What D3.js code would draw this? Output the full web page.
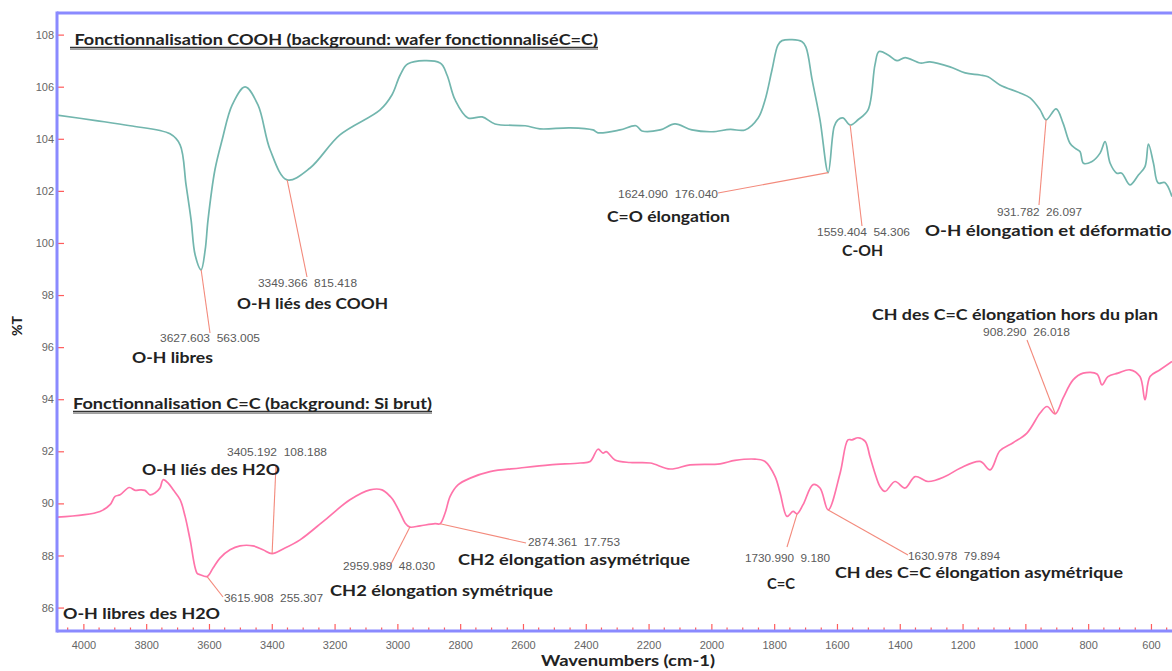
<!DOCTYPE html>
<html>
<head>
<meta charset="utf-8">
<script src="https://cdn.jsdelivr.net/npm/d3@7"></script>
<style>
  html, body { margin: 0; padding: 0; background: #fff; }
  svg { display: block; }
  .num { font-family: "Liberation Sans", Arial, sans-serif; font-size: 11.5px; fill: #5a5a5a; white-space: pre; }
  .lbl { font-family: Lato, "Open Sans", sans-serif; font-weight: 700; font-size: 16px; fill: #222; }
  .tick text { font-family: "Liberation Sans", Arial, sans-serif; font-size: 11px; fill: #666; }
</style>
</head>
<body>
<svg id="chart" width="1172" height="671"></svg>
<script>
// FTIR spectra: [wavenumber (cm-1), %T]
const coohSpectrum = [
  [4084,104.91],[3960,104.70],[3851,104.50],[3724,104.19],[3692,103.77],[3673,102.23],[3657,100.89],
  [3644,99.54],[3625,98.97],[3612,99.74],[3603,100.89],[3581,102.81],[3558,103.96],[3526,105.30],
  [3485,105.99],[3444,105.30],[3405,103.57],[3351,102.42],[3278,102.88],[3183,104.15],[3055,105.11],
  [3017,105.69],[2991,106.45],[2966,106.88],[2864,106.91],[2842,106.45],[2816,105.49],[2775,104.80],
  [2730,104.84],[2689,104.57],[2593,104.50],[2546,104.38],[2450,104.42],[2377,104.34],[2361,104.23],
  [2291,104.34],[2240,104.50],[2221,104.30],[2163,104.34],[2116,104.57],[2062,104.34],[1998,104.27],
  [1940,104.36],[1893,104.34],[1851,104.80],[1829,105.49],[1807,106.64],[1788,107.60],[1775,107.77],
  [1711,107.73],[1698,107.49],[1679,106.26],[1654,104.73],[1628,102.70],[1609,104.46],[1597,104.73],
  [1581,104.80],[1558,104.53],[1533,104.73],[1501,105.11],[1479,106.84],[1466,107.35],[1437,107.22],
  [1409,107.00],[1383,107.12],[1335,106.91],[1304,106.95],[1240,106.76],[1192,106.53],[1144,106.45],
  [1119,106.38],[1081,106.07],[1017,105.76],[985,105.57],[953,105.11],[934,104.73],[902,105.15],
  [880,104.60],[858,103.83],[842,103.64],[826,103.51],[815,103.06],[789,103.12],[762,103.45],
  [746,103.89],[730,103.06],[709,102.68],[693,102.68],[667,102.23],[640,102.61],[619,102.93],
  [608,103.80],[592,103.06],[577,102.30],[556,102.32],[533,101.78]
];

const ccSpectrum = [
  [4083,89.47],[3947,89.69],[3915,89.95],[3899,90.27],[3883,90.33],[3854,90.61],[3835,90.50],
  [3819,90.52],[3804,90.50],[3788,90.33],[3772,90.40],[3756,90.59],[3746,90.91],[3730,90.78],
  [3714,90.52],[3692,90.14],[3676,89.50],[3660,88.60],[3638,87.32],[3628,87.26],[3606,87.19],
  [3587,87.52],[3565,87.90],[3533,88.22],[3501,88.37],[3460,88.37],[3428,88.22],[3399,88.07],
  [3364,88.25],[3310,88.60],[3230,89.37],[3151,90.14],[3087,90.52],[3049,90.52],[3023,90.27],
  [3014,90.14],[2991,89.63],[2975,89.24],[2960,89.09],[2928,89.14],[2880,89.22],[2864,89.22],
  [2848,89.63],[2832,90.27],[2807,90.71],[2768,90.97],[2705,91.22],[2609,91.36],[2514,91.48],
  [2418,91.55],[2386,91.61],[2361,92.08],[2345,91.93],[2335,91.99],[2307,91.67],[2259,91.57],
  [2195,91.55],[2131,91.32],[2068,91.48],[1972,91.52],[1925,91.65],[1861,91.70],[1829,91.61],
  [1797,91.03],[1781,90.40],[1759,89.50],[1740,89.69],[1727,89.60],[1708,89.95],[1676,90.72],
  [1654,90.59],[1628,89.75],[1590,91.16],[1565,92.44],[1552,92.44],[1533,92.52],[1510,92.38],
  [1495,91.80],[1479,91.16],[1463,90.65],[1447,90.46],[1415,90.84],[1383,90.59],[1351,91.03],
  [1310,90.84],[1256,91.03],[1208,91.35],[1144,91.61],[1112,91.29],[1081,92.02],[1039,92.33],
  [995,92.70],[953,93.47],[931,93.72],[905,93.44],[880,94.04],[848,94.74],[816,95.00],
  [772,94.97],[756,94.55],[737,94.87],[705,95.00],[667,95.13],[635,94.87],[619,93.98],
  [603,94.87],[571,95.13],[533,95.45]
];

const xTickValues = d3.range(4000, 599, -200);
const xMinorValues = d3.range(4050, 549, -50).filter(v => v % 200 !== 0);
const yTickValues = d3.range(86, 109, 2);

const seriesTitles = [
  " Fonctionnalisation COOH (background: wafer fonctionnaliséC=C)",
  "Fonctionnalisation C=C (background: Si brut)"
];

// peak assignments: which spectrum, peak wavenumber in that spectrum, peak readout, band name
const peakSeries = ["cooh","cooh","cooh","cooh","cooh","cc","cc","cc","cc","cc","cc","cc"];
const peakWavenumbers = [3625, 3351, 1628, 1558, 934, 905, 3399, 3606, 2960, 2864, 1727, 1628];
const peakReadouts = [
  "3627.603  563.005", "3349.366  815.418", "1624.090  176.040", "1559.404  54.306",
  "931.782  26.097", "908.290  26.018", "3405.192  108.188", "3615.908  255.307",
  "2959.989  48.030", "2874.361  17.753", "1730.990  9.180", "1630.978  79.894"
];
const peakNames = [
  "O-H libres", "O-H liés des COOH", "C=O élongation", "C-OH",
  "O-H élongation et déformation", "CH des C=C élongation hors du plan",
  "O-H liés des H2O", "O-H libres des H2O", "CH2 élongation symétrique",
  "CH2 élongation asymétrique", "C=C", "CH des C=C élongation asymétrique"
];

// label placement (pixels): leader end, readout start/centre/width, name start/centre/width
const peakLayout = [
  {lx:210, ly:333, nx:160, ny:338, nw:100, tx:132, ty:357, tw:81},
  {lx:307, ly:277, nx:258, ny:283, nw:99,  tx:237, ty:303, tw:151},
  {lx:718, ly:193, nx:618, ny:194, nw:100, tx:607, ty:216, tw:123},
  {lx:862, ly:226, nx:817, ny:232, nw:93,  tx:842, ty:250, tw:41},
  {lx:1039,ly:205, nx:997, ny:212, nw:85,  tx:925, ty:230, tw:257},
  {lx:1027,ly:340, nx:983, ny:332, nw:87,  tx:872, ty:314, tw:286},
  {lx:276, ly:465, nx:227, ny:452, nw:100, tx:142, ty:469, tw:138},
  {lx:223, ly:597, nx:224, ny:598, nw:99,  tx:63,  ty:613, tw:157},
  {lx:390, ly:566, nx:343, ny:566, nw:92,  tx:330, ty:590, tw:223},
  {lx:526, ly:543, nx:528, ny:542, nw:92,  tx:458, ty:559, tw:232},
  {lx:787, ly:547, nx:745, ny:558, nw:85,  tx:767, ty:583, tw:28},
  {lx:908, ly:555, nx:908, ny:556, nw:92,  tx:835, ty:572, tw:288}
];

const svg = d3.select("#chart");
const W = 1172, H = 671;
const plot = {left: 57, right: 1172, top: 13, bottom: 631};

const x = d3.scaleLinear().domain([4084, 533]).range([plot.left, plot.right]);
const y = d3.scaleLinear().domain([85.1, 108.83]).range([plot.bottom, plot.top]);

const axisBlue = "#8a8aff";
const tickRed = "#ff5c5c";

// clip for the spectra
svg.append("defs").append("clipPath").attr("id", "plotClip")
  .append("rect").attr("x", plot.left).attr("y", plot.top)
  .attr("width", plot.right - plot.left).attr("height", plot.bottom - plot.top);

// spectra
const line = d3.line().x(d => x(d[0])).y(d => y(d[1])).curve(d3.curveCatmullRom.alpha(0.5));
const curves = svg.append("g").attr("clip-path", "url(#plotClip)");
curves.append("path").datum(coohSpectrum).attr("d", line)
  .attr("fill", "none").attr("stroke", "#72b6ae").attr("stroke-width", 1.7);
curves.append("path").datum(ccSpectrum).attr("d", line)
  .attr("fill", "none").attr("stroke", "#ff74aa").attr("stroke-width", 1.7);

// x axis
const xAxis = d3.axisBottom(x).tickValues(xTickValues).tickSizeInner(-7).tickSizeOuter(0).tickPadding(12)
  .tickFormat(d3.format("d"));
const gx = svg.append("g").attr("transform", `translate(0,${plot.bottom})`).call(xAxis);
gx.selectAll(".tick line").attr("stroke", tickRed).attr("stroke-width", 1.2);
gx.select(".domain").remove();
gx.selectAll(".tick text").attr("dy", "0.5em");
svg.append("g").selectAll("line").data(xMinorValues).join("line")
  .attr("x1", d => x(d)).attr("x2", d => x(d))
  .attr("y1", plot.bottom).attr("y2", plot.bottom - 3.5)
  .attr("stroke", tickRed).attr("stroke-width", 1.2);

// y axis
const yAxis = d3.axisLeft(y).tickValues(yTickValues).tickSizeInner(-7).tickSizeOuter(0).tickPadding(3)
  .tickFormat(d3.format("d"));
const gy = svg.append("g").attr("transform", `translate(${plot.left},0)`).call(yAxis);
gy.selectAll(".tick line").attr("stroke", tickRed).attr("stroke-width", 1.2);
gy.select(".domain").remove();
gy.selectAll(".tick text").attr("font-size", "10.5px");

// frame lines
svg.append("line").attr("x1", plot.left).attr("x2", plot.right).attr("y1", plot.bottom).attr("y2", plot.bottom)
  .attr("stroke", axisBlue).attr("stroke-width", 3);
svg.append("line").attr("x1", plot.left).attr("x2", plot.right).attr("y1", plot.top).attr("y2", plot.top)
  .attr("stroke", axisBlue).attr("stroke-width", 3);
svg.append("line").attr("x1", plot.left).attr("x2", plot.left).attr("y1", plot.top - 1.5).attr("y2", plot.bottom + 1.5)
  .attr("stroke", axisBlue).attr("stroke-width", 3);

// axis titles
svg.append("text").attr("class", "lbl")
  .attr("transform", `translate(22,${(plot.top + plot.bottom) / 2 + 4}) rotate(-90)`)
  .attr("text-anchor", "middle").style("font-size", "14px").text("%T");
svg.append("text").attr("class", "lbl").attr("x", 541).attr("y", 666)
  .attr("textLength", 174).attr("lengthAdjust", "spacingAndGlyphs").text("Wavenumbers (cm-1)");

// series titles with underline
const titleLayout = [{x: 70, cy: 39, w: 528, uy: 47.5}, {x: 73, cy: 403, w: 359, uy: 411.5}];
seriesTitles.forEach((t, i) => {
  const L = titleLayout[i];
  svg.append("line").attr("x1", L.x).attr("x2", L.x + L.w).attr("y1", L.uy + 1.8).attr("y2", L.uy + 1.8)
    .attr("stroke", "#a0a0a0").attr("stroke-width", 1.6);
  svg.append("line").attr("x1", L.x).attr("x2", L.x + L.w).attr("y1", L.uy).attr("y2", L.uy)
    .attr("stroke", "#333").attr("stroke-width", 1.4);
  svg.append("text").attr("class", "lbl").attr("x", L.x).attr("y", L.cy).attr("dy", "0.35em")
    .style("white-space", "pre")
    .attr("textLength", L.w).attr("lengthAdjust", "spacingAndGlyphs").text(t);
});

// peak annotations
const spectra = {cooh: coohSpectrum, cc: ccSpectrum};
const ann = svg.append("g");
peakWavenumbers.forEach((wn, i) => {
  const pt = spectra[peakSeries[i]].find(d => d[0] === wn);
  const L = peakLayout[i];
  ann.append("line").attr("x1", x(pt[0])).attr("y1", y(pt[1])).attr("x2", L.lx).attr("y2", L.ly)
    .attr("stroke", "#f38a7c").attr("stroke-width", 1.1);
  ann.append("text").attr("class", "num").attr("x", L.nx).attr("y", L.ny).attr("dy", "0.35em")
    .attr("textLength", L.nw).attr("lengthAdjust", "spacingAndGlyphs").text(peakReadouts[i]);
  ann.append("text").attr("class", "lbl").attr("x", L.tx).attr("y", L.ty).attr("dy", "0.35em")
    .attr("textLength", L.tw).attr("lengthAdjust", "spacingAndGlyphs").text(peakNames[i]);
});
</script>
</body>
</html>
